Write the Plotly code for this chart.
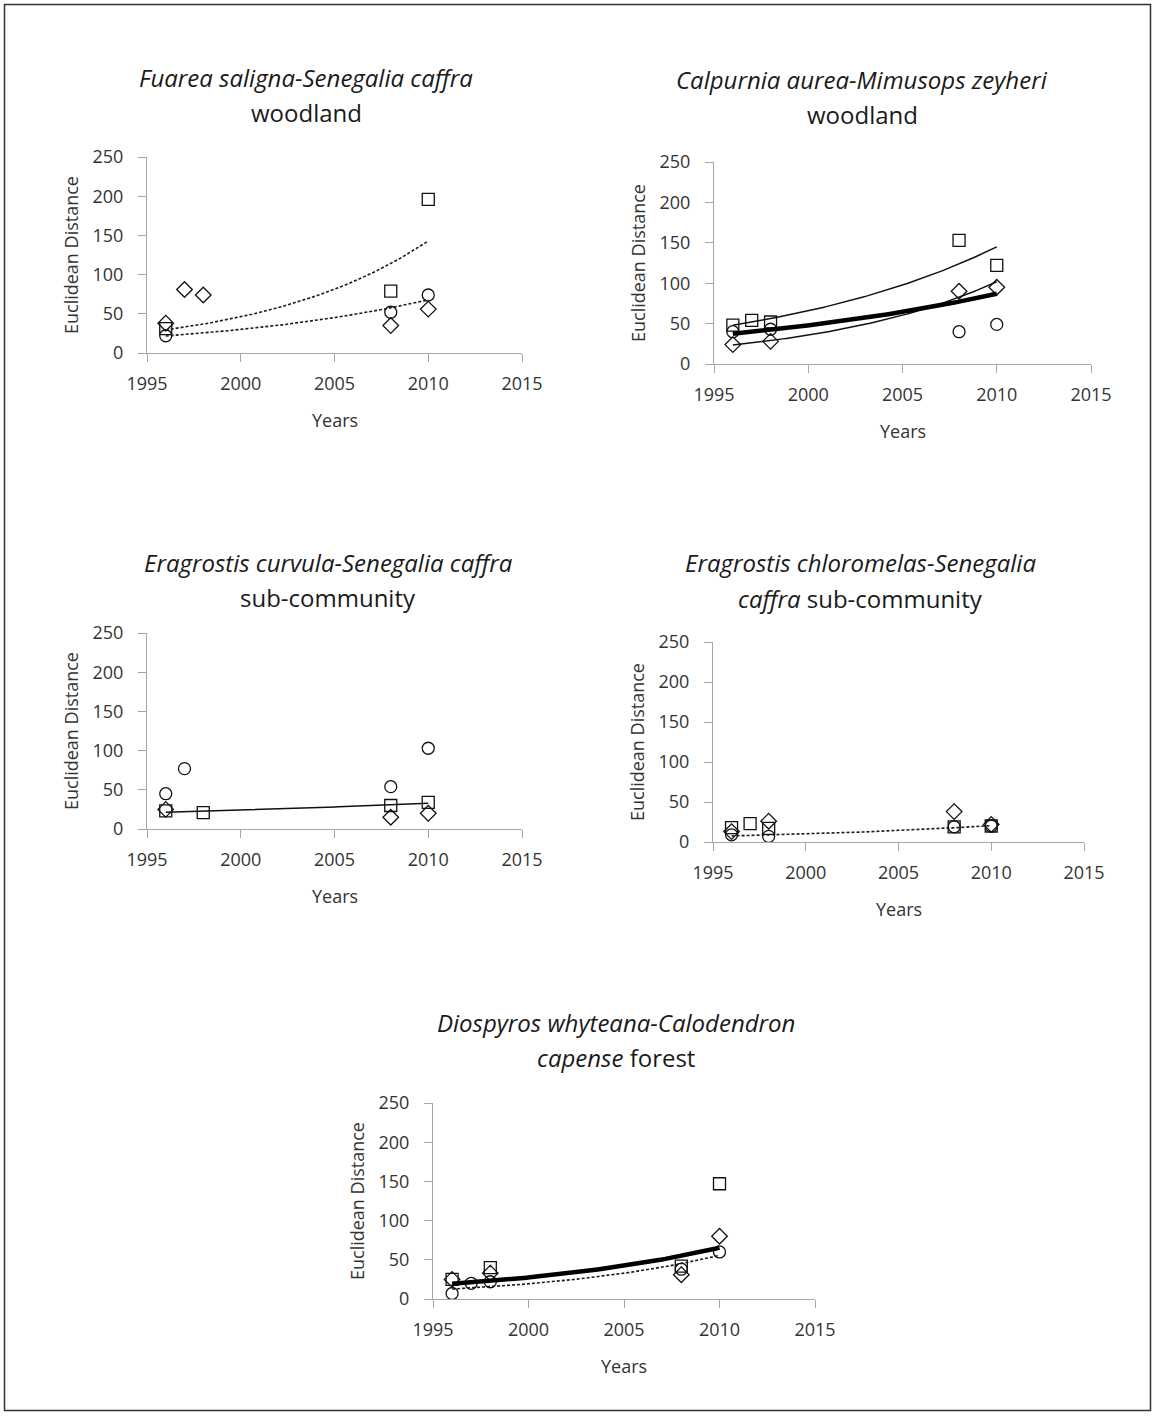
import numpy as np
import plotly.graph_objects as go

W, H = 1156, 1416
FONT = "Open Sans"

x_ticks = [1995, 2000, 2005, 2010, 2015]
y_ticks = [0, 50, 100, 150, 200, 250]

# ---- Panel 1: Fuarea saligna-Senegalia caffra woodland
p1_sq_x = [1996, 2008, 2010]
p1_sq_y = [31, 79, 196]
p1_ci_x = [1996, 2008, 2010]
p1_ci_y = [22, 52, 74]
p1_di_x = [1996, 1997, 1998, 2008, 2010]
p1_di_y = [38, 81, 74, 35, 56]

# ---- Panel 2: Calpurnia aurea-Mimusops zeyheri woodland
p2_sq_x = [1996, 1997, 1998, 2008, 2010]
p2_sq_y = [48, 54, 52, 153, 122]
p2_ci_x = [1996, 1998, 2008, 2010]
p2_ci_y = [40, 43, 40, 49]
p2_di_x = [1996, 1998, 2008, 2010]
p2_di_y = [24, 28, 90, 95]

# ---- Panel 3: Eragrostis curvula-Senegalia caffra sub-community
p3_sq_x = [1996, 1998, 2008, 2010]
p3_sq_y = [23, 21, 30, 34]
p3_ci_x = [1996, 1997, 2008, 2010]
p3_ci_y = [45, 77, 54, 103]
p3_di_x = [1996, 2008, 2010]
p3_di_y = [25, 15, 20]

# ---- Panel 4: Eragrostis chloromelas-Senegalia caffra sub-community
p4_sq_x = [1996, 1997, 1998, 2008, 2010]
p4_sq_y = [18, 23, 17, 19, 20]
p4_ci_x = [1996, 1998, 2008, 2010]
p4_ci_y = [9, 7, 19, 20]
p4_di_x = [1996, 1998, 2008, 2010]
p4_di_y = [13, 26, 38, 22]

# ---- Panel 5: Diospyros whyteana-Calodendron capense forest
p5_sq_x = [1996, 1998, 2008, 2010]
p5_sq_y = [25, 40, 42, 147]
p5_ci_x = [1996, 1997, 1998, 2008, 2010]
p5_ci_y = [7, 20, 22, 38, 60]
p5_di_x = [1996, 1998, 2008, 2010]
p5_di_y = [25, 33, 31, 80]

titles_line1 = [
    "<i>Fuarea saligna-Senegalia caffra</i>",
    "<i>Calpurnia aurea-Mimusops zeyheri</i>",
    "<i>Eragrostis curvula-Senegalia caffra</i>",
    "<i>Eragrostis chloromelas-Senegalia</i>",
    "<i>Diospyros whyteana-Calodendron</i>",
]
titles_line2 = [
    "woodland",
    "woodland",
    "sub-community",
    "<i>caffra</i> sub-community",
    "<i>capense</i> forest",
]

# pixel boxes of plot areas (x0, x1, ytop, ybottom)
boxes = [
    (147, 522, 157, 353),
    (714, 1091, 162, 364),
    (147, 522, 633, 829),
    (713, 1084, 642, 842),
    (433, 815, 1103, 1299),
]
title_pos = [(306, 77, 112), (862, 79, 114), (328, 562, 597), (860, 562, 598), (616, 1022, 1057)]

panels = [
    dict(sq=(p1_sq_x, p1_sq_y), ci=(p1_ci_x, p1_ci_y), di=(p1_di_x, p1_di_y),
         fits=[("sq", "dash"), ("ci", "dash")]),
    dict(sq=(p2_sq_x, p2_sq_y), ci=(p2_ci_x, p2_ci_y), di=(p2_di_x, p2_di_y),
         fits=[("sq", "thin"), ("di", "thin"), ("all", "thick")]),
    dict(sq=(p3_sq_x, p3_sq_y), ci=(p3_ci_x, p3_ci_y), di=(p3_di_x, p3_di_y),
         fits=[("sq", "thin")]),
    dict(sq=(p4_sq_x, p4_sq_y), ci=(p4_ci_x, p4_ci_y), di=(p4_di_x, p4_di_y),
         fits=[("ci", "dash")]),
    dict(sq=(p5_sq_x, p5_sq_y), ci=(p5_ci_x, p5_ci_y), di=(p5_di_x, p5_di_y),
         fits=[("all", "thick"), ("ci", "dash")]),
]


def expfit(xs, ys):
    xs = np.asarray(xs, float)
    ys = np.asarray(ys, float)
    b, lna = np.polyfit(xs - xs.min(), np.log(ys), 1)
    xx = np.linspace(xs.min(), xs.max(), 80)
    return xx, np.exp(lna) * np.exp(b * (xx - xs.min()))


line_styles = {
    "dash": dict(color="#1a1a1a", width=1.6, dash="3px,2px"),
    "thin": dict(color="#111111", width=1.5),
    "thick": dict(color="#000000", width=4.5),
}
marker_styles = {
    "sq": dict(symbol="square-open", size=12),
    "ci": dict(symbol="circle-open", size=12),
    "di": dict(symbol="diamond-open", size=12),
}

fig = go.Figure()
annotations = []

for i, (p, box) in enumerate(zip(panels, boxes)):
    k = "" if i == 0 else str(i + 1)
    xa, ya = "x" + k, "y" + k
    x0, x1, yt, yb = box
    fig.update_layout(**{
        "xaxis" + k: dict(
            domain=[x0 / W, x1 / W], anchor=ya, range=[1995, 2015],
            tickvals=x_ticks, showgrid=False, zeroline=False, showline=True,
            linecolor="#A6A6A6", linewidth=1.2, ticks="outside", ticklen=8,
            tickcolor="#A6A6A6", tickwidth=1.2, automargin=False,
            tickfont=dict(family=FONT, size=18, color="#333333"),
            ticklabelstandoff=6,
        ),
        "yaxis" + k: dict(
            domain=[1 - yb / H, 1 - yt / H], anchor=xa, range=[0, 250],
            tickvals=y_ticks, showgrid=False, zeroline=False, showline=True,
            linecolor="#A6A6A6", linewidth=1.2, ticks="outside", ticklen=8,
            tickcolor="#A6A6A6", tickwidth=1.2, automargin=False,
            tickfont=dict(family=FONT, size=18, color="#333333"),
            ticklabelstandoff=11,
        ),
    })
    # markers
    for key in ["sq", "ci", "di"]:
        xs, ys = p[key]
        fig.add_trace(go.Scatter(
            x=xs, y=ys, mode="markers", xaxis=xa, yaxis=ya, showlegend=False,
            marker=dict(color="#111111", line=dict(color="#111111", width=1.3),
                        **marker_styles[key]),
        ))
    # trend lines (exponential fits of the plotted values)
    for series, style in p["fits"]:
        if series == "all":
            xs = list(p["sq"][0]) + list(p["ci"][0]) + list(p["di"][0])
            ys = list(p["sq"][1]) + list(p["ci"][1]) + list(p["di"][1])
        else:
            xs, ys = p[series]
        fx, fy = expfit(xs, ys)
        fig.add_trace(go.Scatter(
            x=fx, y=fy, mode="lines", xaxis=xa, yaxis=ya, showlegend=False,
            line=line_styles[style],
        ))
    # titles
    tx, ty1, ty2 = title_pos[i]
    for txt, ty in [(titles_line1[i], ty1), (titles_line2[i], ty2)]:
        annotations.append(dict(
            text=txt, x=tx / W, y=1 - ty / H, xref="paper", yref="paper",
            xanchor="center", yanchor="middle", showarrow=False,
            font=dict(family=FONT, size=24, color="#1a1a1a"),
        ))
    # axis titles
    annotations.append(dict(
        text="Years", x=(x0 + x1) / 2 / W, y=1 - (yb + 67) / H,
        xref="paper", yref="paper", xanchor="center", yanchor="middle",
        showarrow=False, font=dict(family=FONT, size=18, color="#333333"),
    ))
    annotations.append(dict(
        text="Euclidean Distance", x=(x0 - 76) / W, y=1 - (yt + yb) / 2 / H,
        xref="paper", yref="paper", xanchor="center", yanchor="middle",
        textangle=-90, showarrow=False,
        font=dict(family=FONT, size=18, color="#333333"),
    ))

fig.update_layout(
    width=W, height=H,
    margin=dict(l=0, r=0, t=0, b=0, pad=0, autoexpand=False),
    paper_bgcolor="white", plot_bgcolor="white",
    annotations=annotations,
    shapes=[dict(type="rect", xref="paper", yref="paper",
                 x0=4.5 / W, x1=1 - 5.5 / W, y0=5.5 / H, y1=1 - 4.5 / H,
                 line=dict(color="#333333", width=1.5))],
)

fig.write_html("out.html", config={"displayModeBar": False},
               post_script="document.body.style.margin='0px';")
